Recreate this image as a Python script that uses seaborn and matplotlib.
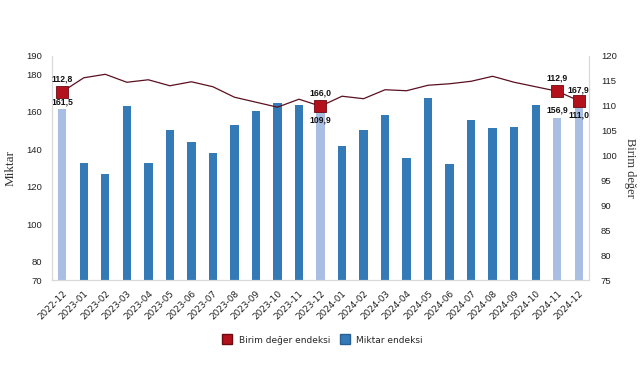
import matplotlib
matplotlib.use("Agg")
import matplotlib.pyplot as plt
from matplotlib.lines import Line2D
import seaborn as sns
import pandas as pd

# --- data ---
months = ["2022-12", "2023-01", "2023-02", "2023-03", "2023-04", "2023-05", "2023-06",
          "2023-07", "2023-08", "2023-09", "2023-10", "2023-11", "2023-12", "2024-01",
          "2024-02", "2024-03", "2024-04", "2024-05", "2024-06", "2024-07", "2024-08",
          "2024-09", "2024-10", "2024-11", "2024-12"]
miktar = [161.5, 132.5, 126.8, 162.9, 132.5, 150.5, 143.8, 137.9, 152.9, 160.5, 164.8, 163.8,
          166.0, 141.8, 150.2, 158.4, 135.2, 167.3, 132.3, 155.6, 151.3, 152.0, 163.6, 156.9, 167.9]
birim = [112.8, 115.6, 116.3, 114.7, 115.2, 114.0, 114.8, 113.8, 111.7, 110.7, 109.7, 111.3,
         109.9, 111.9, 111.4, 113.2, 113.0, 114.1, 114.4, 114.9, 115.9, 114.7, 113.8, 112.9, 111.0]
highlight = ["2022-12", "2023-12", "2024-11", "2024-12"]

# label placement for the highlighted points: +1 above the marker, -1 below
birim_label_side = {"2022-12": 1, "2023-12": -1, "2024-11": 1, "2024-12": -1}

DARK = "#337ab7"
LIGHT = "#a9bee3"
RED = "#b3111b"
LINE = "#5b1020"

df = pd.DataFrame({"ay": months, "miktar": miktar, "birim": birim})
df["pos"] = range(len(df))
df["vurgu"] = df["ay"].isin(highlight)

sns.set_style("white")
plt.rcParams["font.family"] = ["DejaVu Sans"]

fig = plt.figure(figsize=(6.41, 3.80), dpi=100)
ax = fig.add_axes([0.081, 0.263, 0.838, 0.590])

colors = {m: (LIGHT if m in highlight else DARK) for m in months}
sns.barplot(data=df, x="ay", y="miktar", hue="ay", palette=colors, legend=False, dodge=False,
            width=0.39, linewidth=0, ax=ax, saturation=1)

ax2 = ax.twinx()
sns.lineplot(data=df, x="pos", y="birim", color=LINE, linewidth=0.9, ax=ax2)
hl = df[df["vurgu"]]
sns.scatterplot(data=hl, x="pos", y="birim", marker="s", s=65, color=RED,
                edgecolor="#6d0a10", linewidth=0.6, zorder=5, ax=ax2)

ax.set_xlim(-0.48, len(months) - 0.52)
ax.set_ylim(70, 190)
ax.set_yticks([70, 80, 100, 120, 140, 160, 180, 190])
ax2.set_ylim(75, 120)
ax2.set_yticks(range(75, 121, 5))

ax.set_xlabel("")
ax.set_ylabel("Miktar", family="Liberation Serif", fontsize=9.5, color="#333333", va="center")
ax.yaxis.set_label_coords(-0.076, 0.5)
ax2.set_xlabel("")
ax2.set_ylabel("Birim değer", family="Liberation Serif", fontsize=9, color="#333333",
               rotation=270, va="center")
ax2.yaxis.set_label_coords(1.076, 0.5)

ax.tick_params(axis="x", length=0, labelsize=6.4, rotation=45, pad=6, colors="#222222")
for t in ax.get_xticklabels():
    t.set_ha("right")
    t.set_rotation_mode("anchor")
ax.tick_params(axis="y", length=0, labelsize=6.8, pad=7, colors="#222222")
ax2.tick_params(axis="y", length=0, labelsize=6.8, pad=8.5, colors="#222222")
for t in ax.get_yticklabels() + ax2.get_yticklabels():
    t.set_family("Liberation Sans")

for a in (ax, ax2):
    a.spines["top"].set_visible(False)
    for s in ("left", "right", "bottom"):
        a.spines[s].set_color("#d9d9d9")
        a.spines[s].set_linewidth(0.8)

# data labels on highlighted months
lab_kw = dict(fontsize=6.2, fontweight="bold", ha="center", color="#111111",
              family="Liberation Sans")
for _, r in hl.iterrows():
    side = birim_label_side[r["ay"]]
    ax2.annotate(f"{r['birim']:.1f}".replace(".", ","), (r["pos"], r["birim"]),
                 xytext=(0, 6 if side > 0 else -7), textcoords="offset points",
                 va="bottom" if side > 0 else "top", zorder=6, **lab_kw)
    ax.annotate(f"{r['miktar']:.1f}".replace(".", ","), (r["pos"], r["miktar"]),
                xytext=(0, 2), textcoords="offset points", va="bottom", zorder=6, **lab_kw)

handles = [Line2D([], [], marker="s", linestyle="none", markersize=7.5, markerfacecolor=RED,
                  markeredgecolor="#6d0a10", label="Birim değer endeksi"),
           Line2D([], [], marker="s", linestyle="none", markersize=7.5, markerfacecolor=DARK,
                  markeredgecolor="#2a5f94", label="Miktar endeksi")]
fig.legend(handles=handles, loc="center", bbox_to_anchor=(0.5, 0.105), ncol=2, frameon=False,
           fontsize=6.5, handletextpad=0.3, columnspacing=0.6)

fig.savefig("out.png", dpi=100)
